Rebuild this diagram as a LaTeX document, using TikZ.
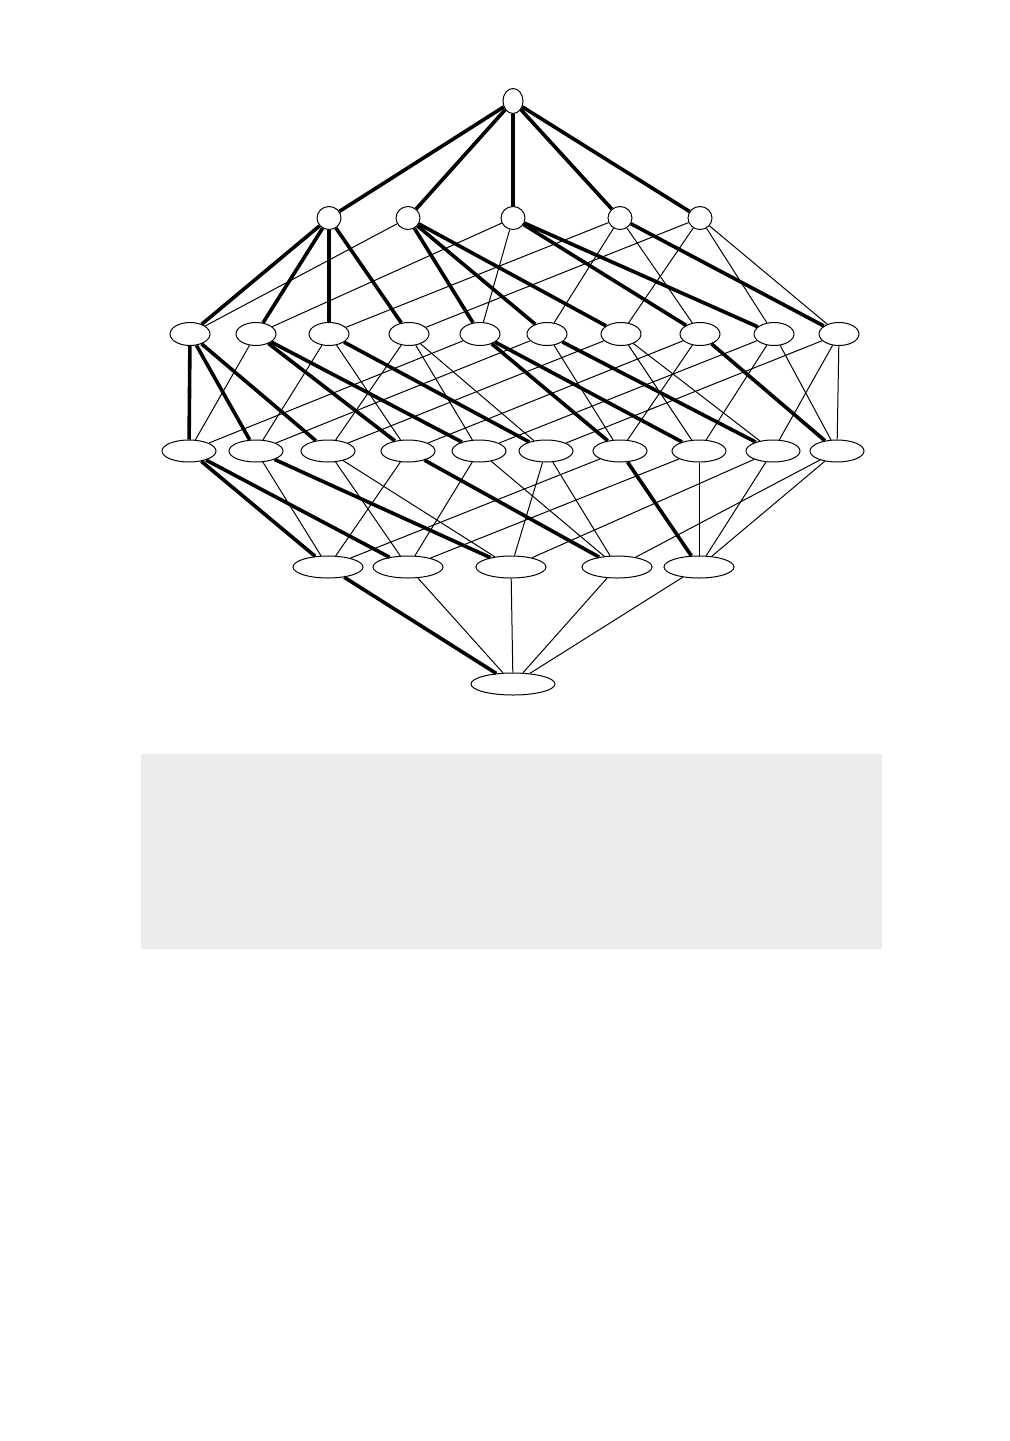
\documentclass[tikz,border=0pt]{standalone}
\usetikzlibrary{shapes.geometric}
\definecolor{panelgray}{RGB}{236,236,236}
\begin{document}
\begin{tikzpicture}[
  x=0.5pt, y=-0.5pt,
  vtx/.style={draw, ellipse, fill=white, inner sep=0pt, line width=0.5pt},
  lvl0/.style={vtx, minimum width=10pt, minimum height=12.5pt},
  lvl1/.style={vtx, minimum width=12pt, minimum height=11.5pt},
  lvl2/.style={vtx, minimum width=20pt, minimum height=11.5pt},
  lvl3/.style={vtx, minimum width=27pt, minimum height=11pt},
  lvl4/.style={vtx, minimum width=35pt, minimum height=11pt},
  lvl5/.style={vtx, minimum width=42pt, minimum height=11pt},
  cover/.style={line width=0.5pt},
  tree/.style={line width=1.8pt}
]
\useasboundingbox (0,0) rectangle (1009,1441);

% empty panel below the lattice
\fill[panelgray, rounded corners=0.5pt] (141,754) rectangle (882,949);

\node[lvl0] (top) at (513,101) {};

\node[lvl1] (A) at (329,218) {};
\node[lvl1] (B) at (408,218) {};
\node[lvl1] (C) at (513,218) {};
\node[lvl1] (D) at (620,218) {};
\node[lvl1] (E) at (700,218) {};

\node[lvl2] (AB) at (190,334) {};
\node[lvl2] (AC) at (256,334) {};
\node[lvl2] (AD) at (329,334) {};
\node[lvl2] (AE) at (409,334) {};
\node[lvl2] (BC) at (480,334) {};
\node[lvl2] (BD) at (547,334) {};
\node[lvl2] (BE) at (621,334) {};
\node[lvl2] (CD) at (700,334) {};
\node[lvl2] (CE) at (774,334) {};
\node[lvl2] (DE) at (839,334) {};

\node[lvl3] (ABC) at (189,451) {};
\node[lvl3] (ABD) at (256,451) {};
\node[lvl3] (ABE) at (328,451) {};
\node[lvl3] (ACD) at (408,451) {};
\node[lvl3] (ACE) at (479,451) {};
\node[lvl3] (ADE) at (546,451) {};
\node[lvl3] (BCD) at (620,451) {};
\node[lvl3] (BCE) at (699,451) {};
\node[lvl3] (BDE) at (773,451) {};
\node[lvl3] (CDE) at (837,451) {};

\node[lvl4] (ABCD) at (328,567) {};
\node[lvl4] (ABCE) at (408,567) {};
\node[lvl4] (ABDE) at (511,567) {};
\node[lvl4] (ACDE) at (617,567) {};
\node[lvl4] (BCDE) at (699,567) {};

\node[lvl5] (ABCDE) at (513,684) {};

% thin covering edges
\foreach \hi/\lo in {B/AB, C/AC, D/AD, E/AE, C/BC, D/BD, E/BE, D/CD, E/CE, E/DE,
    AC/ABC, BC/ABC, AD/ABD, BD/ABD, AE/ABE, BE/ABE, AD/ACD, CD/ACD,
    AE/ACE, CE/ACE, AE/ADE, DE/ADE, BD/BCD, CD/BCD, BE/BCE, CE/BCE,
    BE/BDE, DE/BDE, CE/CDE, DE/CDE,
    ABD/ABCD, ACD/ABCD, BCD/ABCD, ABE/ABCE, ACE/ABCE, BCE/ABCE,
    ABE/ABDE, ADE/ABDE, BDE/ABDE, ACE/ACDE, ADE/ACDE, CDE/ACDE,
    BCE/BCDE, BDE/BCDE, CDE/BCDE,
    ABCE/ABCDE, ABDE/ABCDE, ACDE/ABCDE, BCDE/ABCDE}
  \draw[cover] (\hi) -- (\lo);

% thick spanning tree
\foreach \hi/\lo in {top/A, top/B, top/C, top/D, top/E,
    A/AB, A/AC, A/AD, A/AE, B/BC, B/BD, B/BE, C/CD, C/CE, D/DE,
    AB/ABC, AB/ABD, AB/ABE, AC/ACD, AC/ACE, AD/ADE, BC/BCD, BC/BCE, BD/BDE, CD/CDE,
    ABC/ABCD, ABC/ABCE, ABD/ABDE, ACD/ACDE, BCD/BCDE, ABCD/ABCDE}
  \draw[tree] (\hi) -- (\lo);

\end{tikzpicture}
\end{document}
